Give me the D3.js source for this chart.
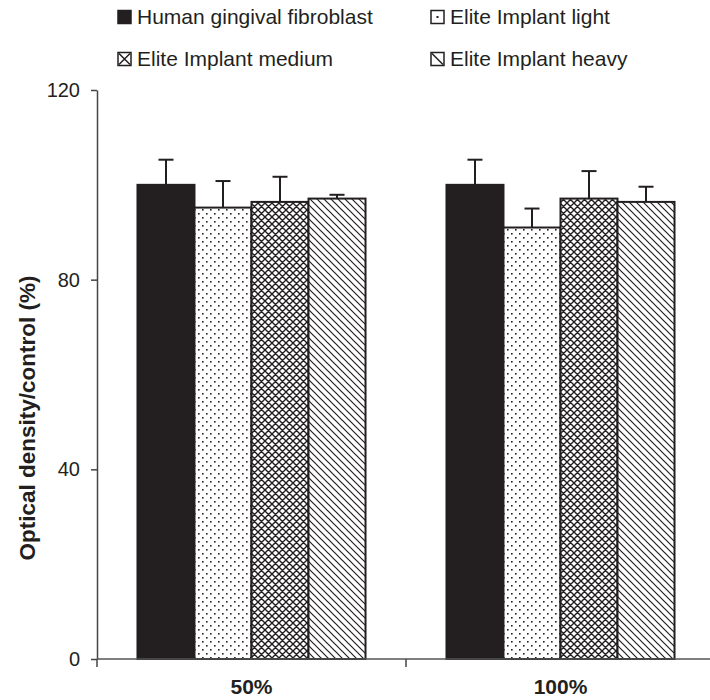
<!DOCTYPE html>
<html><head><meta charset="utf-8">
<script src="https://cdn.jsdelivr.net/npm/d3@7"></script>
<style>body{margin:0;background:#fff}svg{display:block;font-family:"Liberation Sans",Arial,sans-serif}</style>
</head><body><svg id="c" width="710" height="700"></svg>
<script>
const categories = ["50%", "100%"];
const series = ["Human gingival fibroblast", "Elite Implant light", "Elite Implant medium", "Elite Implant heavy"];
const meanValues = [
  [100, 95.2, 96.4, 97.1],
  [100, 91.0, 97.1, 96.4]
];
const errorValues = [
  [5.3, 5.6, 5.3, 0.8],
  [5.3, 4.0, 5.8, 3.2]
];
const yTicks = [0, 40, 80, 120];
const yTitle = "Optical density/control (%)";

const ink = "#231f20";
const svg = d3.select("#c");
const defs = svg.append("defs");
const fills = ["solid", "dots", "cross", "diag"];

// patterns
const pDots = defs.append("pattern").attr("id", "dots").attr("patternUnits", "userSpaceOnUse").attr("width", 8).attr("height", 8);
pDots.append("rect").attr("width", 8).attr("height", 8).attr("fill", "#fff");
pDots.append("rect").attr("x", 1).attr("y", 1).attr("width", 1.6).attr("height", 1.6).attr("fill", ink);
pDots.append("rect").attr("x", 5).attr("y", 5).attr("width", 1.6).attr("height", 1.6).attr("fill", ink);

const pCross = defs.append("pattern").attr("id", "cross").attr("patternUnits", "userSpaceOnUse").attr("width", 7).attr("height", 7);
pCross.append("rect").attr("width", 7).attr("height", 7).attr("fill", "#fff");
pCross.append("path").attr("d", "M0,0L7,7M-1,6L1,8M6,-1L8,1M7,0L0,7M-1,1L1,-1M6,8L8,6").attr("stroke", ink).attr("stroke-width", 1.4);

const pDiag = defs.append("pattern").attr("id", "diag").attr("patternUnits", "userSpaceOnUse").attr("width", 7).attr("height", 7);
pDiag.append("rect").attr("width", 7).attr("height", 7).attr("fill", "#fff");
pDiag.append("path").attr("d", "M0,0L7,7M-1,6L1,8M6,-1L8,1").attr("stroke", ink).attr("stroke-width", 1.2);

function fillOf(i) { return fills[i] === "solid" ? ink : "url(#" + fills[i] + ")"; }

const plot = {left: 97, right: 715, top: 90, bottom: 659};

const y = d3.scaleLinear().domain([0, 120]).range([plot.bottom, plot.top]);
const x0 = d3.scaleBand().domain(categories).range([plot.left, plot.right]).padding(0);
const x1 = d3.scaleBand().domain(series).range([0, x0.bandwidth()]).paddingInner(0).paddingOuter(0.71);

// bars
const groups = svg.append("g").selectAll("g").data(categories).join("g")
  .attr("transform", d => `translate(${x0(d)},0)`);

groups.each(function(cat, ci) {
  const g = d3.select(this);
  const rows = series.map((s, si) => ({s, si, v: meanValues[ci][si], e: errorValues[ci][si]}));
  g.selectAll("line.err").data(rows).join("line").attr("class", "err")
    .attr("x1", d => x1(d.s) + x1.bandwidth() / 2).attr("x2", d => x1(d.s) + x1.bandwidth() / 2)
    .attr("y1", d => y(d.v)).attr("y2", d => y(d.v + d.e))
    .attr("stroke", ink).attr("stroke-width", 2);
  g.selectAll("line.cap").data(rows).join("line").attr("class", "cap")
    .attr("x1", d => x1(d.s) + x1.bandwidth() / 2 - 7.5).attr("x2", d => x1(d.s) + x1.bandwidth() / 2 + 7.5)
    .attr("y1", d => y(d.v + d.e)).attr("y2", d => y(d.v + d.e))
    .attr("stroke", ink).attr("stroke-width", 2);
  g.selectAll("rect").data(rows).join("rect")
    .attr("x", d => x1(d.s)).attr("width", x1.bandwidth())
    .attr("y", d => y(d.v)).attr("height", d => y(0) - y(d.v))
    .attr("fill", d => fillOf(d.si)).attr("stroke", ink).attr("stroke-width", 2);
});

// y axis
const yAxis = svg.append("g").attr("transform", `translate(${plot.left},0)`)
  .call(d3.axisLeft(y).tickValues(yTicks).tickSize(6).tickPadding(11).tickSizeOuter(0));
yAxis.select(".domain").attr("stroke", "#444").attr("stroke-width", 1.5);
yAxis.selectAll(".tick line").attr("stroke", "#444").attr("stroke-width", 1.5);
yAxis.selectAll("text").attr("font-size", 20).attr("fill", ink).attr("font-family", "Liberation Sans, Arial, sans-serif");

// x axis
const xAxis = svg.append("g").attr("transform", `translate(0,${plot.bottom})`);
xAxis.append("line").attr("x1", plot.left).attr("x2", plot.right).attr("stroke", "#555").attr("stroke-width", 1.5);
const bounds = categories.map(c => x0(c)).concat([x0(categories[categories.length - 1]) + x0.bandwidth()]);
xAxis.selectAll("line.tk").data(bounds).join("line").attr("class", "tk")
  .attr("x1", d => d).attr("x2", d => d).attr("y1", 0).attr("y2", 8)
  .attr("stroke", "#444").attr("stroke-width", 1.5);
xAxis.selectAll("text").data(categories).join("text")
  .attr("x", d => x0(d) + x0.bandwidth() / 2).attr("y", 35)
  .attr("text-anchor", "middle").attr("font-size", 21).attr("font-weight", "bold").attr("fill", ink)
  .text(d => d);

// y title
svg.append("text").attr("transform", "translate(35,418) rotate(-90)")
  .attr("text-anchor", "middle").attr("font-size", 22.5).attr("font-weight", "bold").attr("fill", ink)
  .text(yTitle);

// legend
const legPos = [[118, 17], [431, 17], [118, 59], [431, 59]];
const leg = svg.append("g").selectAll("g").data(series).join("g")
  .attr("transform", (d, i) => `translate(${legPos[i][0]},${legPos[i][1]})`);
leg.append("rect").attr("x", 0).attr("y", -6.5).attr("width", 13).attr("height", 13)
  .attr("fill", "#fff").attr("stroke", ink).attr("stroke-width", 1.5);
leg.each(function(d, i) {
  const g = d3.select(this);
  if (fills[i] === "solid") g.select("rect").attr("fill", ink);
  if (fills[i] === "dots") g.append("rect").attr("x", 5.5).attr("y", -1).attr("width", 2).attr("height", 2).attr("fill", ink);
  if (fills[i] === "cross") g.append("path").attr("d", "M1,-5.5L12,5.5M12,-5.5L1,5.5").attr("stroke", ink).attr("stroke-width", 1.5);
  if (fills[i] === "diag") g.append("path").attr("d", "M1,-5.5L12,5.5").attr("stroke", ink).attr("stroke-width", 1.5);
});
leg.append("text").attr("x", 19).attr("y", 0).attr("dy", "0.35em")
  .attr("font-size", 21).attr("fill", ink).text(d => d);
</script></body></html>
